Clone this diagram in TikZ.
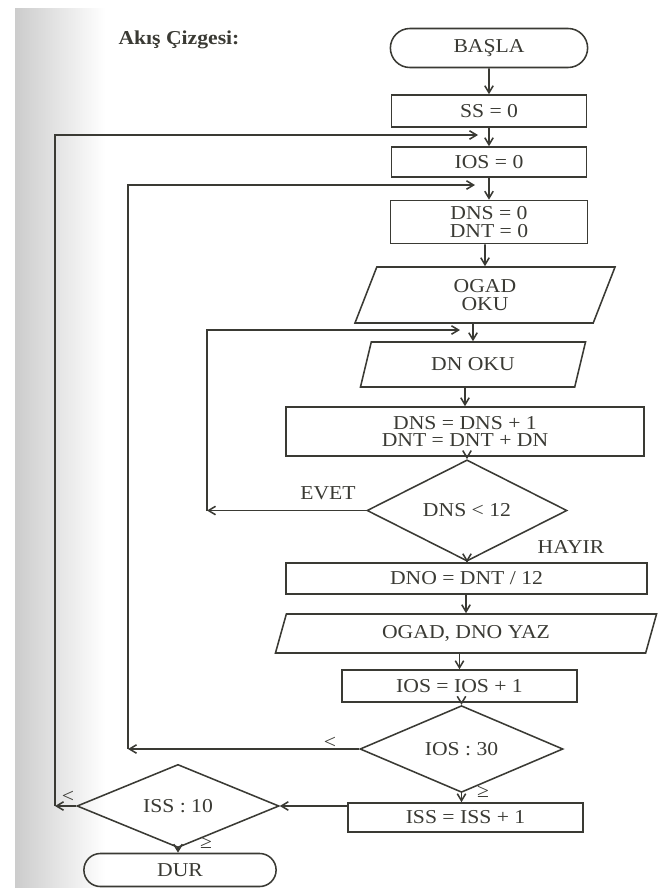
\documentclass[tikz,border=0pt]{standalone}
\usepackage{fontspec}
\setmainfont{Liberation Serif}[FakeStretch=1.1]
\usetikzlibrary{arrows.meta,positioning,shapes.geometric,shapes.misc}
\definecolor{kalem}{HTML}{3A3A34}

\begin{document}
\begin{tikzpicture}[x=0.025cm, y=-0.025cm, ->, >={Straight Barb[length=5pt,width=6pt]},
  line width=1.1pt, color=kalem, font=\fontsize{14}{12.5}\selectfont,
  kutu/.style={rectangle, draw, inner sep=1pt, align=center},
  ucnokta/.style={rounded rectangle, draw, inner sep=1pt},
  veri/.style={trapezium, trapezium left angle=57, trapezium right angle=123,
    trapezium stretches body, draw, inner sep=1pt, align=center},
  karar/.style={diamond, draw, inner sep=0pt}]
  \useasboundingbox (0,0) rectangle (660,888);
  \shade[left color=black!20, right color=white, draw=none] (15,8) rectangle (105,888);

  % Dugumler
  \node[font=\fontsize{14}{12.5}\selectfont\bfseries] (baslik) at (179,40) {Akış Çizgesi:};
  \node[ucnokta, minimum width=5cm, minimum height=0.975cm] (basla) at (489,48) {BAŞLA};
  \node[kutu, minimum width=4.875cm, minimum height=0.8cm] (ss) at (489,111) {SS = 0};
  \node[kutu, minimum width=4.875cm, minimum height=0.75cm] (ios0) at (489,162) {IOS = 0};
  \node[kutu, minimum width=4.925cm, minimum height=1.075cm] (dns0) at (489,222) {DNS = 0\\DNT = 0};
  \node[veri, minimum width=6.5cm, minimum height=1.4cm] (ogad) at (485,295) {OGAD\\OKU};
  \node[veri, minimum width=5.625cm, minimum height=1.125cm, trapezium left angle=56,
    trapezium right angle=124] (dnoku) at (473,364.5) {DN OKU};
  \node[kutu, minimum width=8.95cm, minimum height=1.225cm] (sayac) at (465,431.5) {DNS = DNS + 1\\DNT = DNT + DN};
  \node[karar, minimum width=5cm, minimum height=1.725cm] (d12) at (467,510.5) {DNS < 12};
  \node[kutu, minimum width=9.025cm, minimum height=0.775cm] (dno) at (466.5,578.5) {DNO = DNT / 12};
  \node[veri, minimum width=9.525cm, minimum height=0.975cm, trapezium left angle=60,
    trapezium right angle=120] (yaz) at (466,633.5) {OGAD, DNO YAZ};
  \node[kutu, minimum width=5.875cm, minimum height=0.8cm] (ios1) at (459.5,686) {IOS = IOS + 1};
  \node[karar, minimum width=5.075cm, minimum height=1.7cm] (ios30) at (461.5,749) {IOS : 30};
  \node[kutu, minimum width=5.875cm, minimum height=0.725cm] (iss1) at (465.5,817.5) {ISS = ISS + 1};
  \node[karar, minimum width=5.05cm, minimum height=1.7cm] (iss10) at (178,806) {ISS : 10};
  \node[ucnokta, minimum width=4.875cm, minimum height=0.825cm] (dur) at (180,870) {DUR};

  % Etiketler
  \node (evet) at (328,493) {EVET};
  \node (hayir) at (571,547) {HAYIR};
  \node (kucuk1) at (330,743) {<};
  \node (buyuk1) at (483,792) {≥};
  \node (kucuk2) at (68,797) {<};
  \node (buyuk2) at (206,843) {≥};

  % Donus noktalari
  \coordinate (k1) at (55,806);
  \coordinate (g1) at (478,135);
  \coordinate (k2) at (128,749);
  \coordinate (g2) at (475,185);
  \coordinate (k3) at (207,510.5);
  \coordinate (g3) at (460,330);

  % Akis
  \draw (basla) -- (ss);
  \draw (ss) -- (ios0);
  \draw (ios0) -- (dns0);
  \draw (dns0.south -| ogad) -- (ogad);
  \draw (ogad.south -| dnoku) -- (dnoku);
  \draw (dnoku.south -| sayac) -- (sayac);
  \draw (sayac.south -| d12) -- (d12);
  \draw (d12.south) -- (d12.south |- dno.north);
  \draw (dno.south -| yaz) -- (yaz);
  \draw (yaz.south -| ios1) -- (ios1);
  \draw (ios1.south -| ios30) -- (ios30);
  \draw (ios30.south) -- (ios30.south |- iss1.north);
  \draw (iss1.west |- iss10) -- (iss10);
  \draw (iss10.south) -- (iss10.south |- dur.north);

  % Donguler
  \draw (d12.west) -- (k3);
  \draw (k3) |- (g3);
  \draw (ios30.west) -- (k2);
  \draw (k2) |- (g2);
  \draw (iss10.west) -- (k1);
  \draw (k1) |- (g1);
\end{tikzpicture}
\end{document}
